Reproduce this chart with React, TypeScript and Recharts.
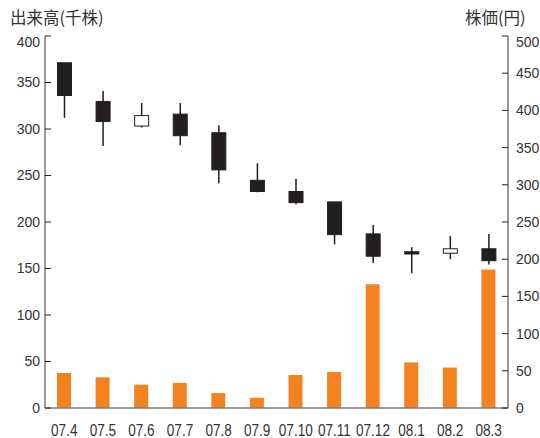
import React from 'react';
import { ComposedChart, Bar, XAxis, YAxis } from 'recharts';

const months = ['07.4', '07.5', '07.6', '07.7', '07.8', '07.9', '07.10', '07.11', '07.12', '08.1', '08.2', '08.3'];
const volume = [37.6, 33, 25, 27, 16, 11, 35.5, 38.7, 133, 49, 43.5, 149];
const open = [464, 412, 379, 395, 370, 306, 291, 277, 234, 210, 208, 214];
const close = [420, 385, 393, 366, 320, 291, 276, 233, 204, 207, 214, 198];
const high = [464, 426, 410, 410, 380, 329, 308, 277, 246, 216, 231, 234];
const low = [390, 352, 377, 353, 302, 290, 274, 220, 195, 181, 200, 193];

const volumeTicks = [0, 50, 100, 150, 200, 250, 300, 350, 400];
const priceTicks = [0, 50, 100, 150, 200, 250, 300, 350, 400, 450, 500];

const data = months.map((m, i) => ({
  month: m,
  volume: volume[i],
  range: [low[i], high[i]],
  open: open[i],
  close: close[i],
  high: high[i],
  low: low[i],
}));

const AXIS = '#7a7a7a';
const TEXT = '#333';
const ORANGE = '#f58220';
const CANDLE = '#231f20';

function Candle(props: any) {
  const { x, y, width, height, payload } = props;
  const { open, close, high, low } = payload;
  const toY = (v: number) => y + ((high - v) / (high - low)) * height;
  const cx = x + width / 2;
  const top = toY(Math.max(open, close));
  const bottom = toY(Math.min(open, close));
  const up = close >= open;
  return (
    <g>
      <line x1={cx} x2={cx} y1={y} y2={y + height} stroke={CANDLE} strokeWidth={1.5} />
      <rect
        x={x + 0.5}
        y={top}
        width={width - 1}
        height={Math.max(bottom - top, 1.5)}
        fill={up ? '#fff' : CANDLE}
        stroke={CANDLE}
        strokeWidth={1}
      />
    </g>
  );
}

// condensed month label
function MonthTick(props: any) {
  const { x, y, payload } = props;
  return (
    <text
      transform={`translate(${x},${y}) scale(0.8,1)`}
      textAnchor="middle"
      dy="0.71em"
      fill={TEXT}
      fontSize={17}
      fontFamily='"Liberation Sans", Arial, sans-serif'
    >
      {payload.value}
    </text>
  );
}

// top label sits a bit below its tick
function ValueTick(props: any) {
  const { x, y, payload, textAnchor, top } = props;
  return (
    <text
      x={x}
      y={y + (payload.value === top ? 6 : 0)}
      dy="0.355em"
      textAnchor={textAnchor}
      fill={TEXT}
      fontSize={14}
      fontFamily='"Liberation Sans", Arial, sans-serif'
    >
      {payload.value}
    </text>
  );
}

export default function App() {
  const titleStyle: React.CSSProperties = {
    position: 'absolute',
    top: 5,
    fontSize: 16.5,
    color: TEXT,
    fontFamily: '"Noto Sans CJK JP", sans-serif',
    whiteSpace: 'nowrap',
  };
  return (
    <div style={{ position: 'absolute', left: 0, top: 0, width: 540, height: 438, overflow: 'hidden', background: '#fff' }}>
      <div style={{ ...titleStyle, left: 10 }}>出来高(千株)</div>
      <div style={{ ...titleStyle, left: 465 }}>株価(円)</div>
      <ComposedChart width={540} height={438} data={data} margin={{ top: 36, right: 0, left: 0, bottom: 0 }}>
        <XAxis
          xAxisId="vol"
          dataKey="month"
          height={30}
          tickLine={false}
          tickSize={0}
          tickMargin={16}
          axisLine={{ stroke: AXIS, strokeWidth: 1.5 }}
          tick={<MonthTick />}
          interval={0}
        />
        <XAxis xAxisId="price" dataKey="month" orientation="top" height={0} hide />
        <YAxis
          yAxisId="vol"
          orientation="left"
          width={45}
          domain={[0, 400]}
          ticks={volumeTicks}
          interval={0}
          tickSize={-6}
          tickMargin={11}
          axisLine={{ stroke: AXIS, strokeWidth: 1.5 }}
          tickLine={{ stroke: CANDLE, strokeWidth: 1 }}
          tick={<ValueTick top={400} />}
        />
        <YAxis
          yAxisId="price"
          orientation="right"
          width={32}
          domain={[0, 500]}
          ticks={priceTicks}
          interval={0}
          tickSize={-6}
          tickMargin={14}
          axisLine={{ stroke: AXIS, strokeWidth: 1.5 }}
          tickLine={{ stroke: CANDLE, strokeWidth: 1 }}
          tick={<ValueTick top={500} />}
        />
        <Bar xAxisId="vol" yAxisId="vol" dataKey="volume" fill={ORANGE} barSize={14} isAnimationActive={false} />
        <Bar xAxisId="price" yAxisId="price" dataKey="range" barSize={15} shape={<Candle />} isAnimationActive={false} />
      </ComposedChart>
    </div>
  );
}
